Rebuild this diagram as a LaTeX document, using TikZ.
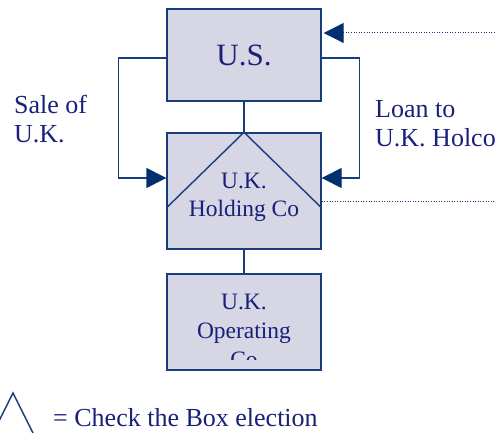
\documentclass[tikz,border=0pt]{standalone}
\usepackage{fontspec}
\setmainfont{Liberation Serif}
\usetikzlibrary{arrows.meta}
\definecolor{boxline}{RGB}{25,60,125}
\definecolor{boxfill}{RGB}{214,214,228}
\definecolor{boxtext}{RGB}{25,32,122}
\definecolor{tipfill}{RGB}{0,48,112}
\tikzset{
	entity/.style={draw=boxline, fill=boxfill, line width=1.4pt, minimum width=154pt, inner sep=0pt},
	labeltext/.style={text=boxtext, font=\fontsize{26}{29}\selectfont, align=left, inner sep=0pt},
	innertext/.style={text=boxtext, font=\fontsize{23.5}{28}\selectfont, align=center, inner sep=0pt},
	flow/.style={draw=boxline, line width=1.4pt, -{Triangle[length=20pt,width=20pt,color=tipfill]}},
	dotflow/.style={draw=boxline, line width=1pt, dash pattern=on 1pt off 1.6pt},
}
\begin{document}
\begin{tikzpicture}[x=1pt,y=-1pt]
			\useasboundingbox (0,0) rectangle (495,433);
			\node	(us) at (244,55) [entity, minimum height=92pt, text=boxtext, font=\fontsize{31}{36}\selectfont] {U.S.};
			\node	(holdco) at (244,191) [entity, minimum height=116pt] {};
			\node	(opco) at (244,322) [entity, minimum height=96pt] {};
			\node	(holdcotxt) at (244,197) [innertext] {U.K.\\Holding Co};
			\begin{scope}
				\clip (167,274) rectangle (321,359);
				\node	(opcotxt) at (244,331) [innertext, font=\fontsize{23.5}{29}\selectfont] {U.K.\\Operating\\Co};
			\end{scope}
			\node	(sale) at (14,119) [labeltext, anchor=west] {Sale of\\U.K.};
			\node	(loan) at (375,124) [labeltext, anchor=west] {Loan to\\U.K. Holco};
			\node	(legend) at (53,418) [labeltext, anchor=west] {= Check the Box election};
			\coordinate (farus) at (495,33);
			\coordinate (farholdco) at (495,201);
			\coordinate (leftfoot) at (-7,433);
			\coordinate (apex) at (13,393);
			\coordinate (rightfoot) at (33,433);
			\draw[boxline, line width=1.4pt]
			(us) edge (holdco)
			(holdco) edge (opco)
			([yshift=-17pt]holdco.west) edge (holdco.north)
			(holdco.north) edge ([yshift=-17pt]holdco.east)
			(leftfoot) -- (apex) -- (rightfoot)
			;
			\draw[flow] ([yshift=-3pt]us.west) -- ++(-48,0) |- ([yshift=13pt]holdco.west);
			\draw[flow] ([yshift=-3pt]us.east) -- ++(38,0) |- ([yshift=13pt]holdco.east);
			\draw[dotflow, -{Triangle[length=20pt,width=20pt,color=tipfill]}] (farus) -- ([xshift=2pt,yshift=22pt]us.east);
			\draw[dotflow] ([yshift=-10pt]holdco.east) -- (farholdco);
		\end{tikzpicture}
\end{document}
